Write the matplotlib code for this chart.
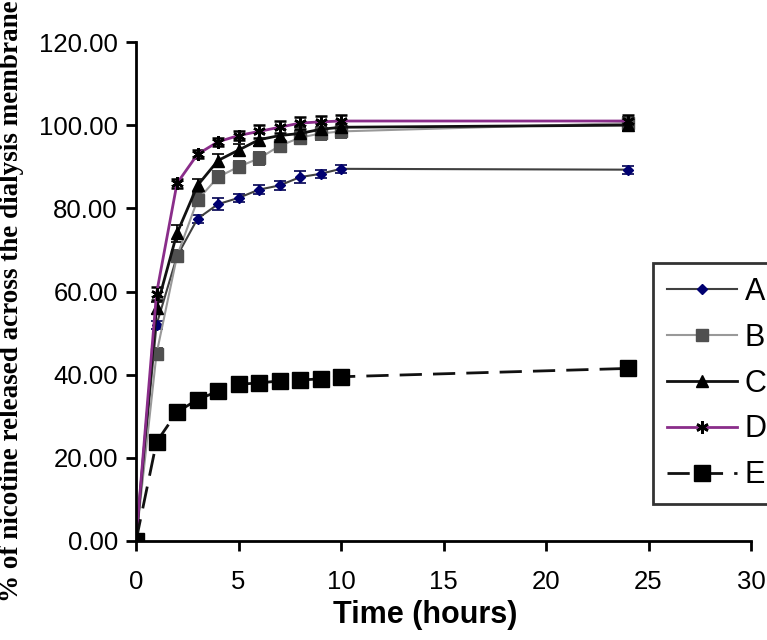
import matplotlib
matplotlib.use("Agg")
import matplotlib.pyplot as plt

time_h = [0, 1, 2, 3, 4, 5, 6, 7, 8, 9, 10, 24]
rel_a = [0, 52, 68.5, 77.5, 81, 82.5, 84.5, 85.5, 87.5, 88.3, 89.5, 89.3]
rel_b = [0, 45, 68.5, 82, 87.5, 90, 92, 95, 97, 98, 98.5, 100.5]
rel_c = [0, 56, 74, 85.5, 91.5, 94, 96.5, 97.5, 98, 99, 99.5, 100]
rel_d = [0, 59.5, 86, 93, 96, 97.5, 98.5, 99.5, 100.5, 100.8, 101, 101]
rel_e = [0, 23.8, 31, 34, 36, 37.7, 38, 38.5, 38.7, 39, 39.5, 41.5]
err_a = [0, 1.0, 1.0, 1.0, 1.5, 1.0, 1.0, 1.0, 1.5, 1.0, 1.0, 1.0]
err_b = [0, 1.5, 1.5, 1.5, 1.5, 1.5, 1.5, 1.5, 1.5, 1.5, 1.5, 1.5]
err_c = [0, 1.5, 2.0, 1.5, 1.5, 1.5, 1.5, 1.5, 1.5, 1.5, 1.5, 1.5]
err_d = [0, 1.5, 1.0, 1.0, 1.0, 1.0, 1.5, 1.5, 1.5, 1.5, 1.5, 1.5]
err_e = [0, 0.5, 0.5, 0.5, 0.5, 0.5, 0.5, 0.5, 0.5, 0.5, 0.5, 1.5]
labels = ["A", "B", "C", "D", "E"]
y_ticks = [0, 20, 40, 60, 80, 100, 120]
x_ticks = [0, 5, 10, 15, 20, 25, 30]

plt.rcParams["font.family"] = ["Liberation Sans", "DejaVu Sans"]

fig = plt.figure(figsize=(7.67, 6.40), dpi=100)
ax = fig.add_axes([136 / 767, 99 / 640, 615 / 767, 499 / 640])

ekw = dict(capsize=4, elinewidth=1.2, capthick=1.2)
series = []
series.append(ax.errorbar(time_h, rel_a, yerr=err_a, color="#404040", lw=1.5, marker="D", ms=5,
                          mfc="#000070", mec="#000070", ecolor="#000050", **ekw))
series.append(ax.errorbar(time_h, rel_b, yerr=err_b, color="#999999", lw=1.5, marker="s", ms=8,
                          mfc="#505050", mec="#505050", ecolor="#303030", **ekw))
series.append(ax.errorbar(time_h, rel_c, yerr=err_c, color="#111111", lw=2, marker="^", ms=9,
                          mfc="black", mec="black", ecolor="black", **ekw))
series.append(ax.errorbar(time_h, rel_d, yerr=err_d, color="#8a2d8a", lw=2, marker=(6, 2, 0), ms=9,
                          mfc="black", mec="black", mew=1.8, ecolor="black", **ekw))
series.append(ax.errorbar(time_h, rel_e, yerr=err_e, color="#111111", lw=2, dashes=(8, 4), marker="s",
                          ms=12, mfc="black", mec="black", ecolor="black", **ekw))

ax.set_xlim(0, 30)
ax.set_ylim(0, 120)
ax.set_xticks(x_ticks)
ax.set_yticks(y_ticks)
ax.set_yticklabels([f"{v:.2f}" for v in y_ticks])
ax.spines["top"].set_visible(False)
ax.spines["right"].set_visible(False)
for s in ("left", "bottom"):
    ax.spines[s].set_linewidth(2)
ax.tick_params(direction="out", length=7, width=2, labelsize=18.5, pad=6)
ax.tick_params(axis="x", pad=14)
for a in ax.get_xticklines() + ax.get_yticklines():
    a.set_clip_on(False)
ax.set_xlabel("Time (hours)", fontsize=22, fontweight="bold")
ax.xaxis.set_label_coords((425 - 136) / 615, (541 - 615) / 499)
ax.xaxis.label.set_va("center")

fig.text(12 / 767, 1 - 301 / 640, "% of nicotine released across the dialysis membrane",
         rotation=90, ha="center", va="center", fontsize=19.5, fontweight="bold",
         family=["Liberation Serif", "DejaVu Serif"])

leg = fig.legend([c[0] for c in series], labels, loc="upper left",
                 bbox_to_anchor=(653 / 767, 1 - 263 / 640),
                 fontsize=22, frameon=True, fancybox=False, labelspacing=0.52,
                 handlelength=2.3, handletextpad=0.25, borderpad=0.45, borderaxespad=0)
leg.get_frame().set_edgecolor("black")
leg.get_frame().set_linewidth(2)

fig.savefig("out.png", dpi=100)
